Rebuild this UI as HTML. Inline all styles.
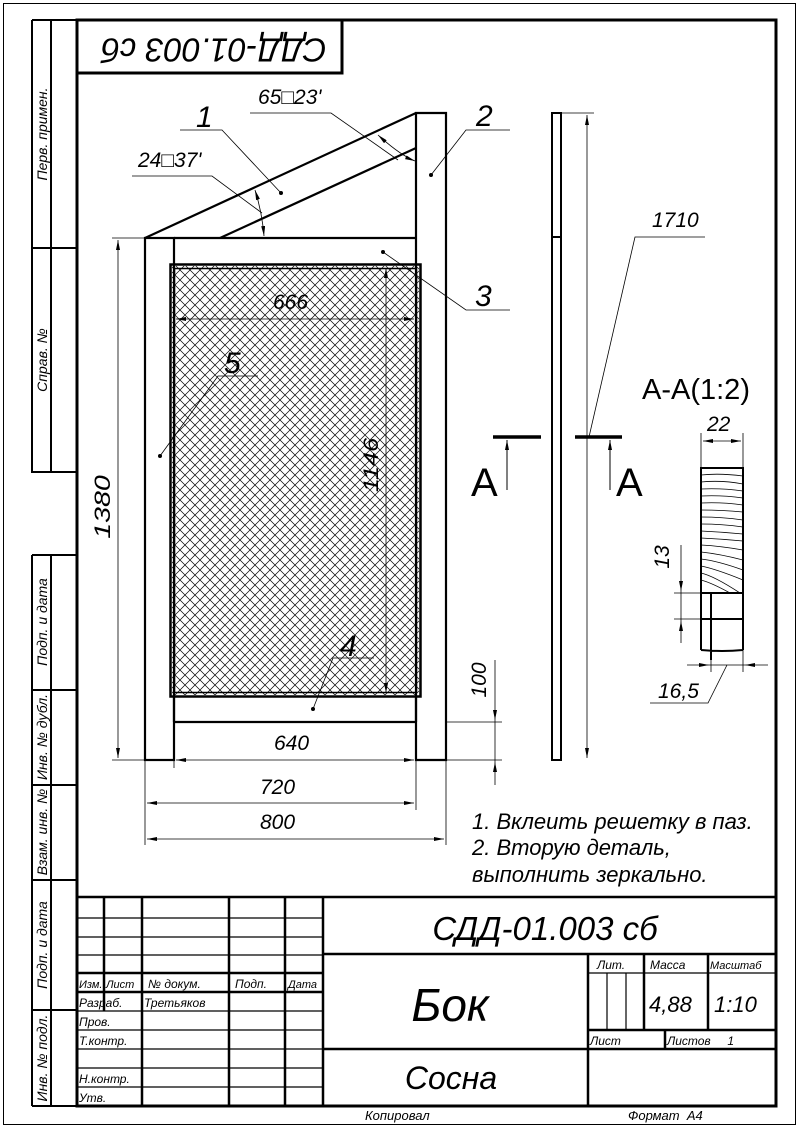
<!DOCTYPE html>
<html><head><meta charset="utf-8"><style>
html,body{margin:0;padding:0;background:#fff}
svg{display:block}
text{font-family:"Liberation Sans","DejaVu Sans",sans-serif;font-style:italic;fill:#000}
</style></head><body>
<svg width="798" height="1127" viewBox="0 0 798 1127" xmlns="http://www.w3.org/2000/svg">
<defs>
<marker id="ar" viewBox="0 0 10 4" refX="10" refY="2" markerWidth="10" markerHeight="4" markerUnits="userSpaceOnUse" orient="auto-start-reverse"><path d="M0,0 L10,2 L0,4z" fill="#000"/></marker>
<pattern id="mesh" width="10" height="10" patternUnits="userSpaceOnUse"><path d="M0,0 L10,10 M10,0 L0,10" stroke="#000" stroke-width="0.7"/></pattern>
<clipPath id="sec"><rect x="701" y="468" width="42" height="125"/></clipPath>
</defs>
<g fill="none" stroke="#000">
<rect x="3.5" y="3.5" width="792" height="1121" stroke-width="1"/>
<rect x="77" y="20" width="699" height="1086" stroke-width="3"/>
<path d="M32,20 V472 H77 M51,20 V472 M32,248 H77 M32,20 H77" stroke-width="2"/>
<path d="M32,555 V1106 M51,555 V1106 M32,555 H77 M32,690 H77 M32,785 H77 M32,880 H77 M32,1010 H77 M32,1106 H77" stroke-width="2"/>
<rect x="77" y="20" width="265" height="53" stroke-width="3"/>
<path d="M77,897 H776 M323,897 V1106 M104,897 V1011 M142,897 V1106 M229,897 V1106 M285,897 V1106 M323,954 H776 M323,1049 H776 M588,954 V1106 M77,973 H323 M77,992 H323 M588,1030 H776 M644,954 V1030 M708,954 V1030 M665,1030 V1049" stroke-width="2.5"/>
<path d="M77,918 H323 M77,937 H323 M77,955 H323 M77,1011 H323 M77,1030 H323 M77,1049 H323 M77,1068 H323 M77,1087 H323 M588,973 H776 M607,973 V1030 M626,973 V1030" stroke-width="1.2"/>

<g stroke-width="2.2">
<rect x="145" y="238" width="29" height="522"/>
<path d="M416,760 V113 H446 V760 Z"/>
<path d="M174,238 H416 M174,722 H416 M174,697 V722 M416,697 V722"/>
<path d="M145,238 L416,113 M220,238 L416,148"/>
</g>
<rect x="172" y="266" width="247" height="429" fill="url(#mesh)" stroke="none"/>
<rect x="170.5" y="264.5" width="250" height="432" stroke-width="2.5"/>
<rect x="174.5" y="268.5" width="242" height="424" stroke-width="1.5"/>
<g stroke-width="0.8">
<path d="M386,268 V693" marker-start="url(#ar)" marker-end="url(#ar)"/>
<path d="M176,319 H414" marker-start="url(#ar)" marker-end="url(#ar)"/>
<path d="M112,238 H145 M112,760 H145"/>
<path d="M118,240 V758" marker-start="url(#ar)" marker-end="url(#ar)"/>
<path d="M176,760 H414" marker-start="url(#ar)" marker-end="url(#ar)"/>
<path d="M145,760 V845 M416,760 V810 M446,760 V845 M174,760 V768"/>
<path d="M147,803 H414" marker-start="url(#ar)" marker-end="url(#ar)"/>
<path d="M147,839 H444" marker-start="url(#ar)" marker-end="url(#ar)"/>
<path d="M446,722 H502 M446,760 H502"/>
<path d="M495,660 V720" marker-end="url(#ar)"/>
<path d="M495,785 V762" marker-end="url(#ar)"/>
<path d="M495,720 V762"/>
<path d="M255,190 Q262,212 264,236" marker-start="url(#ar)" marker-end="url(#ar)"/>
<path d="M378,135 Q400,155 415,161" marker-start="url(#ar)" marker-end="url(#ar)"/>
<path d="M132,176 H212 L262,213"/>
<path d="M250,113 H331 L398,160"/>
<path d="M180,130 H222 L281,193"/>
<path d="M510,130 H466 L431,175"/>
<path d="M510,310 H466 L383,252"/>
<path d="M374,658 H333 L313,709"/>
<path d="M258,376 H218 L160,456"/>
</g>
<g fill="#000" stroke="none">
<circle cx="281" cy="193" r="2"/><circle cx="431" cy="175" r="2"/><circle cx="383" cy="252" r="2"/><circle cx="313" cy="709" r="2"/><circle cx="160" cy="456" r="2"/>
</g>

<rect x="552" y="113" width="9" height="647" stroke-width="2"/>
<path d="M552,237 H561" stroke-width="2"/>
<path d="M561,113 H594" stroke-width="0.8"/>
<path d="M587,115 V758" stroke-width="0.8" marker-start="url(#ar)" marker-end="url(#ar)"/>
<path d="M589,437 L635,237 H705" stroke-width="0.8"/>
<path d="M493,437 H541 M575,437 H622" stroke-width="3.5"/>
<path d="M507,490 V440" stroke-width="1" marker-end="url(#ar)"/>
<path d="M610,490 V440" stroke-width="1" marker-end="url(#ar)"/>

<g clip-path="url(#sec)" stroke-width="0.8">
<path d="M701,475 Q720,473 743,476"/><path d="M701,482 Q722,480 743,484"/><path d="M701,489 Q722,488 743,491"/>
<path d="M701,496 Q722,495 743,498"/><path d="M701,503 Q722,502 743,505"/><path d="M701,510 Q722,510 743,512"/>
<path d="M701,517 Q722,517 743,520"/><path d="M701,524 Q722,524 743,527"/><path d="M701,531 Q722,532 743,534"/>
<path d="M701,538 Q722,539 743,541"/><path d="M701,545 Q720,546 743,550"/><path d="M701,552 Q720,554 743,560"/>
<path d="M701,559 Q718,561 743,570"/><path d="M701,566 Q716,569 743,580"/><path d="M701,573 Q714,576 740,593"/>
<path d="M701,580 Q712,583 730,593"/>
</g>
<path d="M701,468 H743 V593 H701 Z" stroke-width="2"/>
<path d="M701,593 V650 M711,593 V660 M743,593 V650 M701,619 H743 M701,650 Q722,652 743,650" stroke-width="2"/>
<path d="M701,468 V433 M743,468 V433" stroke-width="0.8"/>
<path d="M703,441 H741" stroke-width="0.8" marker-start="url(#ar)" marker-end="url(#ar)"/>
<path d="M674,593 H701 M674,619 H701" stroke-width="0.8"/>
<path d="M681,545 V591" stroke-width="0.8" marker-end="url(#ar)"/>
<path d="M681,643 V621" stroke-width="0.8" marker-end="url(#ar)"/>
<path d="M681,591 V621" stroke-width="0.8"/>
<path d="M711,660 V672 M743,650 V672" stroke-width="0.8"/>
<path d="M687,665 H709" stroke-width="0.8" marker-end="url(#ar)"/>
<path d="M768,665 H745" stroke-width="0.8" marker-end="url(#ar)"/>
<path d="M709,665 H745 M727,665 L708,703 H650" stroke-width="0.8"/>
</g>

<text transform="translate(214,47) rotate(180)" font-size="33" text-anchor="middle" dominant-baseline="middle">СДД-01.003 сб</text>
<g font-size="14" text-anchor="middle">
<text transform="translate(47,134) rotate(-90)">Перв. примен.</text>
<text transform="translate(47,360) rotate(-90)">Справ. №</text>
<text transform="translate(47,622) rotate(-90)">Подп. и дата</text>
<text transform="translate(47,737) rotate(-90)">Инв. № дубл.</text>
<text transform="translate(47,832) rotate(-90)">Взам. инв. №</text>
<text transform="translate(47,945) rotate(-90)">Подп. и дата</text>
<text transform="translate(47,1058) rotate(-90)">Инв. № подл.</text>
</g>
<g font-size="30">
<text x="196" y="127">1</text><text x="476" y="126">2</text><text x="475" y="306">3</text>
<text x="340" y="656">4</text><text x="224" y="373">5</text>
</g>
<g font-size="21">
<text x="258" y="104">65□23'</text>
<text x="138" y="167">24□37'</text>
<text x="273" y="309">666</text>
<text x="274" y="750">640</text>
<text x="260" y="794">720</text>
<text x="260" y="829">800</text>
<text x="652" y="227">1710</text>
<text x="707" y="431">22</text>
<text x="658" y="698">16,5</text>
<text transform="translate(110,507) rotate(-90) scale(1.3,1)" text-anchor="middle" font-size="22">1380</text>
<text transform="translate(378,465) rotate(-90) scale(1.2,1)" text-anchor="middle">1146</text>
<text transform="translate(486,680) rotate(-90)" text-anchor="middle">100</text>
<text transform="translate(669,557) rotate(-90)" text-anchor="middle">13</text>
</g>
<text x="471" y="496" font-size="40" style="font-style:normal">A</text>
<text x="616" y="496" font-size="40" style="font-style:normal">A</text>
<text x="642" y="399" font-size="29" style="font-style:normal">A-A(1:2)</text>
<g font-size="22">
<text x="472" y="829">1. Вклеить решетку в паз.</text>
<text x="472" y="855">2. Вторую деталь,</text>
<text x="472" y="882">выполнить зеркально.</text>
</g>
<text x="545" y="940" font-size="33" text-anchor="middle">СДД-01.003 сб</text>
<text x="450" y="1021" font-size="46" text-anchor="middle">Бок</text>
<text x="451" y="1089" font-size="32" text-anchor="middle">Сосна</text>
<g font-size="12">
<text x="79" y="988" font-size="11">Изм.</text><text x="106" y="988" font-size="11">Лист</text><text x="148" y="988">№ докум.</text><text x="235" y="988">Подп.</text><text x="288" y="988" font-size="11">Дата</text>
<text x="79" y="1007">Разраб.</text><text x="144" y="1007">Третьяков</text>
<text x="79" y="1026">Пров.</text><text x="79" y="1045">Т.контр.</text><text x="79" y="1083">Н.контр.</text><text x="79" y="1102">Утв.</text>
<text x="597" y="969">Лит.</text><text x="650" y="969">Масса</text><text x="710" y="969" font-size="11">Масштаб</text>
<text x="590" y="1045">Лист</text><text x="667" y="1045">Листов&#160;&#160;&#160;&#160;&#160;1</text>
<text x="365" y="1120" font-size="13">Копировал</text><text x="628" y="1120" font-size="13">Формат&#160;&#160;А4</text>
</g>
<text x="649" y="1012" font-size="22">4,88</text>
<text x="714" y="1012" font-size="22">1:10</text>
</svg>
</body></html>
